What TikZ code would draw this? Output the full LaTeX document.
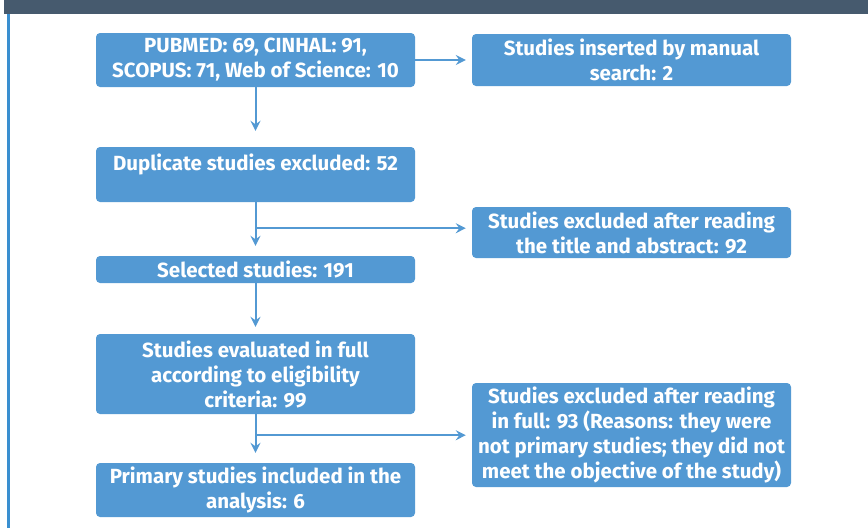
\documentclass[tikz,border=0pt]{standalone}
\usepackage{fontspec}
\setmainfont{Fira Sans}
\usepackage{xcolor}
\definecolor{boxblue}{HTML}{5399D3}
\definecolor{barslate}{HTML}{465A6E}
\definecolor{edgeblue}{HTML}{3A8FD0}
\usetikzlibrary{arrows.meta,positioning,calc}

\begin{document}
\begin{tikzpicture}[x=1pt, y=-1pt,
  box/.style={fill=boxblue, rounded corners=4pt, minimum width=319pt, align=center, inner sep=0pt,
    text=white, font=\fontsize{20.5}{25}\selectfont\bfseries},
  flow/.style={-{Stealth[length=10pt, width=10pt, inset=3.5pt]}, line width=2pt, color=boxblue}
]
\useasboundingbox (0,0) rectangle (868,528);
% frame of the page
\fill[barslate] (4,0) rectangle (868,14);
\draw[edgeblue, line width=3pt] (8,14) -- (8,528);

% left column
\node[box, minimum height=54pt] (search) at (255.5,60) {PUBMED: 69, CINHAL: 91,\\SCOPUS: 71, Web of Science: 10};
\node[box, minimum height=55pt] (dup) at (255.5,174.5) {Duplicate studies excluded: 52\\\mbox{}};
\node[box, minimum height=27pt] (sel) at (255.5,269.5) {Selected studies: 191};
\node[box, minimum height=80pt] (full) at (255.5,374) {Studies evaluated in full\\according to eligibility\\criteria: 99};
\node[box, minimum height=54pt] (incl) at (255.5,490) {Primary studies included in the\\analysis: 6};

% right column
\node[box, minimum height=52pt] (manual) at (631.5,60) {Studies inserted by manual\\search: 2};
\node[box, minimum height=51pt] (exta) at (631.5,232.5) {Studies excluded after reading\\the title and abstract: 92};
\node[box, minimum height=104pt] (extf) at (631.5,435) {Studies excluded after reading\\in full: 93 (Reasons: they were\\not primary studies; they did not\\meet the objective of the study)};

\coordinate (b1) at ($(dup.south)+(0,26)$);
\coordinate (b2) at ($(full.south)+(0,21)$);

\draw[flow, shorten >=6pt] (search) -- (manual);
\draw[flow, shorten >=16pt] (search) -- (dup);
\draw[flow, shorten >=10pt] (dup) -- (sel);
\draw[flow, shorten >=6pt] (b1) -- (b1 -| exta.west);
\draw[flow, shorten >=7pt] (sel) -- (full);
\draw[flow, shorten >=10pt] (full) -- (incl);
\draw[flow, shorten >=6pt] (b2) -- (b2 -| extf.west);
\end{tikzpicture}
\end{document}
